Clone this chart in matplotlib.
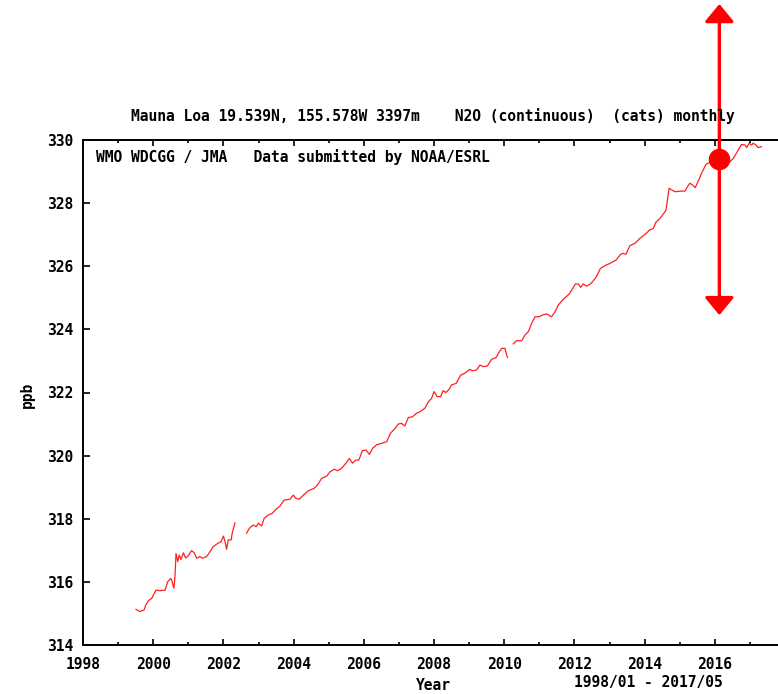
import numpy as np
import matplotlib
matplotlib.use("Agg")
from matplotlib import pyplot as plt
from matplotlib.ticker import MultipleLocator, FixedLocator

# monthly N2O at Mauna Loa, three continuous runs separated by data gaps
years_a = [1999.51, 1999.62, 1999.74, 1999.79, 1999.86, 1999.96, 2000.08, 2000.19, 2000.34,
           2000.41, 2000.50, 2000.54, 2000.59, 2000.62, 2000.65, 2000.70, 2000.74, 2000.79,
           2000.86, 2000.92, 2000.98, 2001.09, 2001.17, 2001.24, 2001.33, 2001.40, 2001.52,
           2001.62, 2001.71, 2001.84, 2001.93, 2002.00, 2002.05, 2002.09, 2002.14, 2002.22,
           2002.25, 2002.33]
ppb_a = [315.13, 315.06, 315.11, 315.27, 315.40, 315.48, 315.74, 315.72, 315.74,
         316.00, 316.11, 316.00, 315.80, 316.16, 316.90, 316.64, 316.85, 316.71,
         316.92, 316.76, 316.80, 316.99, 316.92, 316.75, 316.80, 316.75, 316.80,
         316.96, 317.12, 317.22, 317.27, 317.45, 317.27, 317.03, 317.33, 317.33,
         317.54, 317.87]

years_b = [2002.66, 2002.74, 2002.85, 2002.93, 2003.00, 2003.09, 2003.16, 2003.28, 2003.39,
           2003.50, 2003.61, 2003.73, 2003.90, 2003.99, 2004.06, 2004.16, 2004.28, 2004.42,
           2004.58, 2004.68, 2004.80, 2004.94, 2005.04, 2005.16, 2005.25, 2005.37, 2005.49,
           2005.59, 2005.68, 2005.77, 2005.86, 2005.96, 2006.06, 2006.16, 2006.25, 2006.36,
           2006.51, 2006.65, 2006.76, 2006.89, 2006.98, 2007.08, 2007.17, 2007.27, 2007.39,
           2007.50, 2007.60, 2007.74, 2007.84, 2007.93, 2008.00, 2008.09, 2008.19, 2008.26,
           2008.34, 2008.43, 2008.50, 2008.63, 2008.76, 2008.88, 2009.01, 2009.10, 2009.21,
           2009.31, 2009.40, 2009.52, 2009.64, 2009.77, 2009.86, 2009.93, 2010.02, 2010.09]
ppb_b = [317.54, 317.70, 317.80, 317.75, 317.86, 317.77, 318.01, 318.12, 318.17,
         318.30, 318.40, 318.59, 318.62, 318.75, 318.65, 318.62, 318.75, 318.89,
         318.96, 319.07, 319.28, 319.35, 319.49, 319.57, 319.52, 319.60, 319.76,
         319.91, 319.76, 319.86, 319.86, 320.16, 320.18, 320.04, 320.23, 320.34,
         320.39, 320.44, 320.71, 320.86, 321.00, 321.02, 320.94, 321.21, 321.23,
         321.34, 321.39, 321.50, 321.71, 321.81, 322.03, 321.87, 321.87, 322.06,
         322.00, 322.10, 322.24, 322.29, 322.55, 322.61, 322.73, 322.69, 322.71,
         322.87, 322.82, 322.84, 323.05, 323.11, 323.29, 323.40, 323.40, 323.11]

years_c = [2010.26, 2010.35, 2010.50, 2010.59, 2010.69, 2010.78, 2010.88, 2011.00, 2011.10,
           2011.21, 2011.35, 2011.45, 2011.54, 2011.68, 2011.85, 2011.97, 2012.03, 2012.11,
           2012.18, 2012.25, 2012.35, 2012.48, 2012.63, 2012.74, 2012.87, 2013.01, 2013.19,
           2013.30, 2013.37, 2013.47, 2013.58, 2013.73, 2013.87, 2014.01, 2014.15, 2014.25,
           2014.32, 2014.44, 2014.53, 2014.61, 2014.65, 2014.70, 2014.77, 2014.87, 2015.01,
           2015.15, 2015.22, 2015.29, 2015.37, 2015.44, 2015.53, 2015.62, 2015.75, 2015.86,
           2015.98, 2016.13, 2016.30, 2016.43, 2016.53, 2016.64, 2016.76, 2016.86, 2016.91,
           2016.98, 2017.05, 2017.09, 2017.17, 2017.24, 2017.33]
ppb_c = [323.54, 323.64, 323.64, 323.82, 323.93, 324.19, 324.40, 324.40, 324.46,
         324.49, 324.40, 324.56, 324.77, 324.95, 325.12, 325.33, 325.44, 325.44,
         325.33, 325.44, 325.37, 325.46, 325.67, 325.93, 326.02, 326.09, 326.20,
         326.36, 326.41, 326.38, 326.65, 326.73, 326.89, 327.01, 327.15, 327.20,
         327.39, 327.52, 327.65, 327.78, 328.10, 328.47, 328.42, 328.36, 328.38,
         328.38, 328.52, 328.63, 328.57, 328.49, 328.70, 328.94, 329.23, 329.29,
         329.35, 329.40, 329.30, 329.31, 329.42, 329.63, 329.86, 329.84, 329.76,
         329.90, 329.84, 329.90, 329.84, 329.76, 329.79]

year_ticks = [1998, 2000, 2002, 2004, 2006, 2008, 2010, 2012, 2014, 2016]

# highlighted value and its vertical range marker
mark_year = 2016.13
mark_ppb = 329.40
range_top = 334.31
range_bottom = 324.45

FONT = "DejaVu Sans Mono"
plt.rcParams['font.family'] = FONT
plt.rcParams['font.weight'] = 'bold'

fig = plt.figure(figsize=(7.78, 6.94), dpi=100)
ax = fig.add_axes([83 / 778, 1 - 645 / 694, 702 / 778, 505 / 694])

for xs, ys in [(years_a, ppb_a), (years_b, ppb_b), (years_c, ppb_c)]:
    ax.plot(xs, ys, color='#ff2020', linewidth=0.9)

ax.annotate('', xy=(mark_year, range_top), xytext=(mark_year, range_bottom),
            arrowprops=dict(arrowstyle='<|-|>,head_length=0.4,head_width=0.33',
                            mutation_scale=27, color='#ff0000', lw=2.4,
                            shrinkA=0, shrinkB=0),
            annotation_clip=False, zorder=5)
ax.plot([mark_year], [mark_ppb], 'o', color='#ff0000', markersize=14.5,
        clip_on=False, zorder=6)

ax.set_xlim(1998, 2018)
ax.set_ylim(314, 330)
ax.xaxis.set_major_locator(FixedLocator(year_ticks))
ax.xaxis.set_minor_locator(MultipleLocator(1))
ax.yaxis.set_major_locator(MultipleLocator(2))

ax.spines['right'].set_visible(False)
for s in ['left', 'top', 'bottom']:
    ax.spines[s].set_linewidth(1.4)

ax.tick_params(axis='x', which='both', direction='in', top=True, labelsize=10.5,
               pad=8.5, width=1.2)
ax.tick_params(axis='x', which='major', length=4)
ax.tick_params(axis='x', which='minor', length=2.5)
ax.tick_params(axis='y', which='major', direction='in', length=5, width=1.2,
               labelsize=10.5, pad=7)
for lab in ax.get_xticklabels() + ax.get_yticklabels():
    lab.set_fontweight('bold')

fig.text(433 / 778, 1 - 116 / 694,
         'Mauna Loa 19.539N, 155.578W 3397m    N2O (continuous)  (cats) monthly',
         ha='center', va='center', fontsize=10.5, fontweight='bold')
fig.text(96 / 778, 1 - 157 / 694, 'WMO WDCGG / JMA   Data submitted by NOAA/ESRL',
         ha='left', va='center', fontsize=10.5, fontweight='bold')
fig.text(433 / 778, 1 - 685 / 694, 'Year', ha='center', va='center',
         fontsize=10.5, fontweight='bold')
fig.text(648 / 778, 1 - 682 / 694, '1998/01 - 2017/05', ha='center', va='center',
         fontsize=10.5, fontweight='bold')
fig.text(27 / 778, 1 - 395 / 694, 'ppb', rotation=90, ha='center', va='center',
         fontsize=10.5, fontweight='bold')

fig.savefig('out.png', dpi=100)
